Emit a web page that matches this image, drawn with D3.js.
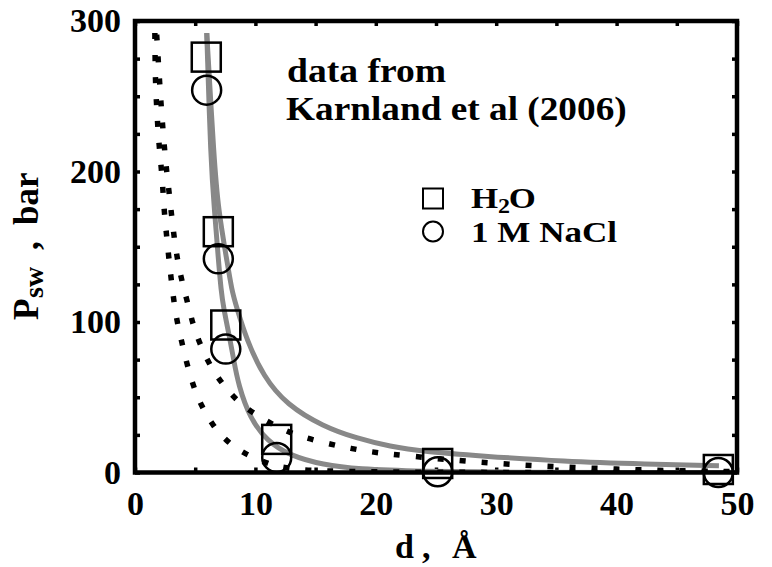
<!DOCTYPE html>
<html>
<head>
<meta charset="utf-8">
<script src="https://cdn.jsdelivr.net/npm/d3@7"></script>
<style>
  body { margin: 0; background: #fff; }
  text { font-family: "Liberation Serif", "Times New Roman", serif; font-weight: bold; fill: #000; }
</style>
</head>
<body>
<div id="chart"></div>
<script>
// measured points, [d in Angstrom, P in bar]
const h2oPoints = [[5.92, 276], [6.92, 160], [7.54, 98], [11.77, 22], [25.14, 6], [48.45, 2]];
const naclPoints = [[5.95, 254], [6.92, 142], [7.54, 82], [11.77, 10], [25.14, 0.5], [48.45, 0]];

// grey fitted curves
const greyInner = [[5.96, 292], [6.29, 207], [6.6, 174], [6.93, 141], [7.15, 121], [7.34, 110], [7.9, 88],
  [8.17, 76], [8.59, 58], [9.56, 36], [10.95, 21], [12.9, 11], [15.65, 5.1], [18.4, 2.2], [24, 0.7],
  [30, 0.2], [40, 0], [50, 0]];
const greyOuter = [[5.96, 292], [6.57, 207], [6.93, 174], [7.63, 141], [8.04, 121], [8.43, 110], [9.28, 88],
  [10.67, 63.7], [12.6, 45], [15.65, 30.5], [18.4, 22.8], [21.2, 17.2], [24, 13.9], [28.7, 11],
  [35.6, 7.3], [42.5, 5.6], [48.5, 4.5]];

// black dotted curves
const dottedUpper = [[1.8, 291], [2.0, 265], [2.2, 240], [2.45, 215], [2.63, 200], [2.85, 185], [3.05, 170],
  [3.27, 155], [3.55, 140], [3.93, 126], [4.43, 111], [4.85, 97], [5.54, 82.5], [6.37, 69], [7.48, 56.4],
  [8.73, 45.6], [10.39, 36.5], [12.05, 29.4], [13.57, 24.3], [15.65, 19.9], [17.5, 16.6], [19.4, 13.9],
  [21.2, 12.2], [23.8, 10.2], [27.7, 7.3], [31.7, 5.1], [35.7, 3.6], [39.8, 2.3], [43.8, 1.3], [50, 0.6]];
const dottedLower = [[1.65, 292], [1.68, 265], [1.75, 250], [1.85, 236], [1.95, 222], [2.13, 207], [2.3, 191],
  [2.41, 175], [2.58, 161], [2.77, 145.5], [2.97, 131], [3.18, 116.7], [3.46, 101.3], [3.88, 86.9],
  [4.3, 72.5], [4.85, 57], [5.54, 43.8], [6.51, 30.5], [7.76, 19.5], [9.28, 11.7], [10.95, 6.2],
  [11.8, 4], [13.7, 1.8], [15.4, 1.1], [20, 0.3], [30, 0], [50, 0]];

const xTicks = [0, 5, 10, 15, 20, 25, 30, 35, 40, 45, 50];
const yTicks = [0, 25, 50, 75, 100, 125, 150, 175, 200, 225, 250, 275, 300];

const W = 772, H = 567;
const margin = {top: 21, right: 35, bottom: 94.5, left: 135};
const width = W - margin.left - margin.right;
const height = H - margin.top - margin.bottom;

const svg = d3.select("#chart").append("svg")
  .attr("width", W)
  .attr("height", H);

const g = svg.append("g")
  .attr("transform", `translate(${margin.left},${margin.top})`);

const x = d3.scaleLinear().domain([0, 50]).range([0, width]);
const y = d3.scaleLinear().domain([0, 300]).range([height, 0]);

g.append("clipPath").attr("id", "clip")
  .append("rect").attr("width", width).attr("height", height);

// axes: inward ticks on all 4 sides, labels only bottom/left
const labelX = d => d % 10 === 0 ? d : "";
const labelY = d => d % 100 === 0 ? d : "";

g.append("g")
  .attr("transform", `translate(0,${height})`)
  .call(d3.axisBottom(x).tickValues(xTicks).tickSize(-5).tickPadding(18).tickFormat(labelX));
g.append("g")
  .call(d3.axisLeft(y).tickValues(yTicks).tickSize(-5).tickPadding(14).tickFormat(labelY));
g.append("g")
  .call(d3.axisTop(x).tickValues(xTicks).tickSize(-5).tickFormat(""));
g.append("g")
  .attr("transform", `translate(${width},0)`)
  .call(d3.axisRight(y).tickValues(yTicks).tickSize(-5).tickFormat(""));

g.selectAll(".domain").remove();
g.selectAll(".tick line").attr("stroke", "#000").attr("stroke-width", 3.5);
g.selectAll(".tick text")
  .style("font-family", '"Liberation Serif", serif')
  .style("font-weight", "bold")
  .style("font-size", "34px")
  .attr("fill", "#000");

const lineX = d3.line()
  .x(d => x(d[0]))
  .y(d => y(d[1]))
  .curve(d3.curveBasis);

const curves = g.append("g").attr("clip-path", "url(#clip)");

// grey curves
[greyInner, greyOuter].forEach(c => {
  curves.append("path")
    .datum(c)
    .attr("d", lineX)
    .attr("fill", "none")
    .attr("stroke", "#888888")
    .attr("stroke-width", 5);
});

// dotted curves
[dottedUpper, dottedLower].forEach(c => {
  curves.append("path")
    .datum(c)
    .attr("d", lineX)
    .attr("fill", "none")
    .attr("stroke", "#000")
    .attr("stroke-width", 5.5)
    .attr("stroke-dasharray", "6,16");
});

// frame
g.append("rect")
  .attr("width", width)
  .attr("height", height)
  .attr("fill", "none")
  .attr("stroke", "#000")
  .attr("stroke-width", 4.5);

// markers
const sq = 29;
g.selectAll(".h2o")
  .data(h2oPoints)
  .enter()
  .append("rect")
    .attr("class", "h2o")
    .attr("x", d => x(d[0]) - sq / 2)
    .attr("y", d => y(d[1]) - sq / 2)
    .attr("width", sq)
    .attr("height", sq)
    .attr("fill", "none")
    .attr("stroke", "#000")
    .attr("stroke-width", 2.5);

g.selectAll(".nacl")
  .data(naclPoints)
  .enter()
  .append("circle")
    .attr("class", "nacl")
    .attr("cx", d => x(d[0]))
    .attr("cy", d => y(d[1]))
    .attr("r", 14.5)
    .attr("fill", "none")
    .attr("stroke", "#000")
    .attr("stroke-width", 2.5);

// text that is a bit wider than the font (the original is stretched sideways)
function wideText(px, py, sx, size) {
  return svg.append("text")
    .attr("transform", `translate(${px},${py}) scale(${sx},1)`)
    .style("font-size", size + "px");
}

// annotation
wideText(287, 82, 1.14, 33).text("data from");
wideText(286, 120, 1.13, 33).text("Karnland et al (2006)");

// legend
svg.append("rect")
  .attr("x", 423).attr("y", 188.5)
  .attr("width", 20).attr("height", 20)
  .attr("fill", "none").attr("stroke", "#000").attr("stroke-width", 2);
const h2oText = wideText(471, 208, 1.2, 29);
h2oText.append("tspan").text("H");
h2oText.append("tspan").attr("dy", 5).style("font-size", "20px").text("2");
h2oText.append("tspan").attr("dy", -5).attr("dx", -1).text("O");

svg.append("circle")
  .attr("cx", 433).attr("cy", 231.5).attr("r", 10)
  .attr("fill", "none").attr("stroke", "#000").attr("stroke-width", 2);
wideText(471, 241.5, 1.21, 29).text("1 M NaCl");

// axis titles
const xTitle = svg.append("text")
  .attr("y", 558)
  .style("font-size", "34px");
xTitle.append("tspan").attr("x", 395).text("d");
xTitle.append("tspan").attr("x", 422).text(",");
xTitle.append("tspan").attr("x", 452).text("Å");

const yTitle = svg.append("text")
  .attr("transform", "translate(38,0) rotate(-90)")
  .style("font-size", "35px");
yTitle.append("tspan").attr("x", -320).attr("y", 0).text("P");
yTitle.append("tspan").attr("x", -298).attr("y", 5).style("font-size", "28px").text("sw");
yTitle.append("tspan").attr("x", -250).attr("y", 0).text(",");
yTitle.append("tspan").attr("x", -225).attr("y", 0).text("bar");
</script>
</body>
</html>
